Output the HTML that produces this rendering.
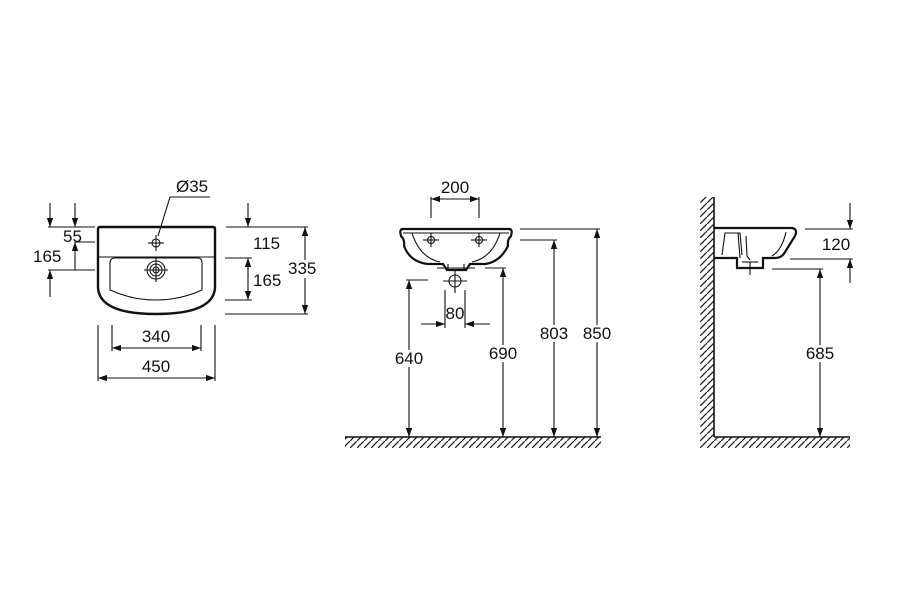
<!DOCTYPE html>
<html><head><meta charset="utf-8"><style>
html,body{margin:0;padding:0;background:#fff;}
svg{display:block;}
text{font-family:"Liberation Sans",Arial,sans-serif;font-size:17px;fill:#111;}
</style></head><body>
<svg width="900" height="600" viewBox="0 0 900 600" xmlns="http://www.w3.org/2000/svg">
<defs>
<marker id="a" viewBox="0 0 10 10" refX="10" refY="5" markerWidth="9" markerHeight="9" orient="auto-start-reverse" markerUnits="userSpaceOnUse"><path d="M0,1.5 L10,5 L0,8.5 z" fill="#111"/></marker>
<pattern id="h" width="7" height="7" patternUnits="userSpaceOnUse"><path d="M-1,8 L8,-1" stroke="#222" stroke-width="1.3"/></pattern>
</defs>
<g stroke="#111" fill="none" stroke-width="1.1">
<path d="M98,229 Q98,227 100,227 L213,227 Q215,227 215,229 L215,288 Q213,314 156,314 Q100,314 98,288 Z" stroke-width="2.4"/>
<line x1="98" y1="257" x2="215" y2="257"/>
<path d="M115,258 L198,258 Q202,258 202,263 L202,290 Q180,300 156,300 Q132,300 110,290 L110,263 Q110,258 115,258 Z"/>
<circle cx="156" cy="243" r="4"/>
<line x1="148" y1="243" x2="164" y2="243"/><line x1="156" y1="235" x2="156" y2="251"/>
<circle cx="156" cy="270" r="9"/><circle cx="156" cy="270" r="6"/><circle cx="156" cy="270" r="3"/>
<line x1="144" y1="270" x2="168" y2="270"/><line x1="156" y1="258" x2="156" y2="282"/>
<path d="M210,197 L170,197 L158,236"/>
<line x1="48" y1="227" x2="95" y2="227"/>
<line x1="75" y1="242" x2="95" y2="242"/>
<line x1="48" y1="270" x2="95" y2="270"/>
<line x1="50" y1="203" x2="50" y2="227" marker-end="url(#a)"/>
<line x1="75" y1="203" x2="75" y2="227" marker-end="url(#a)"/>
<line x1="75" y1="270" x2="75" y2="242" marker-end="url(#a)"/>
<line x1="50" y1="297" x2="50" y2="270" marker-end="url(#a)"/>
<line x1="226" y1="227" x2="308" y2="227"/>
<line x1="225" y1="258" x2="252" y2="258"/>
<line x1="225" y1="300" x2="252" y2="300"/>
<line x1="225" y1="314" x2="308" y2="314"/>
<line x1="248" y1="203" x2="248" y2="227" marker-end="url(#a)"/>
<line x1="248" y1="258" x2="248" y2="300" marker-start="url(#a)" marker-end="url(#a)"/>
<line x1="305" y1="227" x2="305" y2="314" marker-start="url(#a)" marker-end="url(#a)"/>
<line x1="98" y1="325" x2="98" y2="381"/>
<line x1="215" y1="325" x2="215" y2="381"/>
<line x1="112" y1="325" x2="112" y2="351"/>
<line x1="201" y1="325" x2="201" y2="351"/>
<line x1="112" y1="348" x2="201" y2="348" marker-start="url(#a)" marker-end="url(#a)"/>
<line x1="98" y1="378" x2="215" y2="378" marker-start="url(#a)" marker-end="url(#a)"/>

<path d="M403,229 L509,229 Q513,229 511,236 Q507,240 508,246 Q500,262 485,264 L470,264 L466,270 L447,270 L443,264 L428,264 Q410,262 404,246 Q405,240 401,236 Q399,229 403,229 Z" stroke-width="2.2"/>
<path d="M412,233 Q420,258 440,262"/><path d="M500,233 Q492,258 472,262"/>
<line x1="403" y1="233" x2="509" y2="233"/>
<line x1="448" y1="264" x2="448" y2="270"/><line x1="464" y1="264" x2="464" y2="270"/>
<line x1="437" y1="268" x2="475" y2="268"/>
<circle cx="431" cy="240" r="3.5"/><line x1="423" y1="240" x2="439" y2="240"/><line x1="431" y1="233" x2="431" y2="247"/>
<circle cx="479" cy="240" r="3.5"/><line x1="471" y1="240" x2="487" y2="240"/><line x1="479" y1="233" x2="479" y2="247"/>
<circle cx="455" cy="281" r="6"/><line x1="443" y1="281" x2="467" y2="281"/><line x1="455" y1="271" x2="455" y2="293"/>
<line x1="431" y1="197" x2="431" y2="218"/><line x1="479" y1="197" x2="479" y2="218"/>
<line x1="431" y1="199" x2="479" y2="199" marker-start="url(#a)" marker-end="url(#a)"/>
<line x1="445" y1="290" x2="445" y2="328"/><line x1="465" y1="290" x2="465" y2="328"/>
<line x1="421" y1="324" x2="445" y2="324" marker-end="url(#a)"/>
<line x1="490" y1="324" x2="465" y2="324" marker-end="url(#a)"/>
<line x1="406" y1="280" x2="428" y2="280"/>
<line x1="409" y1="280" x2="409" y2="437" marker-start="url(#a)" marker-end="url(#a)"/>
<line x1="485" y1="268" x2="506" y2="268"/>
<line x1="503" y1="268" x2="503" y2="437" marker-start="url(#a)" marker-end="url(#a)"/>
<line x1="520" y1="240" x2="557" y2="240"/>
<line x1="554" y1="240" x2="554" y2="437" marker-start="url(#a)" marker-end="url(#a)"/>
<line x1="520" y1="229" x2="600" y2="229"/>
<line x1="597" y1="229" x2="597" y2="437" marker-start="url(#a)" marker-end="url(#a)"/>
<rect x="345" y="437" width="256" height="11" fill="url(#h)" stroke="none"/>
<line x1="345" y1="437" x2="601" y2="437" stroke-width="1.6"/>

<rect x="700" y="197" width="14" height="240" fill="url(#h)" stroke="none"/>
<line x1="714" y1="197" x2="714" y2="437" stroke-width="1.6"/>
<rect x="700" y="437" width="150" height="11" fill="url(#h)" stroke="none"/>
<line x1="714" y1="437" x2="850" y2="437" stroke-width="1.6"/>
<path d="M714,228 L792,228 Q798,229 795,236 L785,252 Q782,258 775,258 L763,258 L763,268 L737,268 L737,258 L714,258" stroke-width="2.2"/>
<path d="M722,255 L725,233 L740,233 L742,255"/>
<path d="M738,233 L740,258"/>
<path d="M746,236 L747,256 L750,260"/>
<path d="M786,232 Q782,250 772,256"/>
<line x1="750" y1="262" x2="750" y2="275"/><line x1="742" y1="262" x2="758" y2="262"/>
<line x1="805" y1="229" x2="853" y2="229"/>
<line x1="790" y1="259" x2="853" y2="259"/>
<line x1="850" y1="203" x2="850" y2="229" marker-end="url(#a)"/>
<line x1="850" y1="283" x2="850" y2="259" marker-end="url(#a)"/>
<line x1="772" y1="269" x2="823" y2="269"/>
<line x1="820" y1="269" x2="820" y2="437" marker-start="url(#a)" marker-end="url(#a)"/>
</g>
<g>
<text x="176" y="192">Ø35</text>
<text x="63" y="242">55</text>
<text x="33" y="262">165</text>
<text x="253" y="249">115</text>
<text x="253" y="286">165</text>
<rect x="288" y="260" width="34" height="18" fill="#fff"/>
<text x="288" y="274">335</text>
<text x="156" y="342" text-anchor="middle">340</text>
<text x="156" y="372" text-anchor="middle">450</text>
<text x="455" y="193" text-anchor="middle">200</text>
<text x="455" y="319" text-anchor="middle">80</text>
<rect x="391" y="350" width="36" height="17" fill="#fff"/>
<text x="409" y="364" text-anchor="middle">640</text>
<rect x="485" y="345" width="36" height="17" fill="#fff"/>
<text x="503" y="359" text-anchor="middle">690</text>
<rect x="536" y="325" width="36" height="17" fill="#fff"/>
<text x="554" y="339" text-anchor="middle">803</text>
<rect x="579" y="325" width="36" height="17" fill="#fff"/>
<text x="597" y="339" text-anchor="middle">850</text>
<text x="836" y="250" text-anchor="middle">120</text>
<rect x="802" y="345" width="36" height="17" fill="#fff"/>
<text x="820" y="359" text-anchor="middle">685</text>
</g>
</svg>
</body></html>
